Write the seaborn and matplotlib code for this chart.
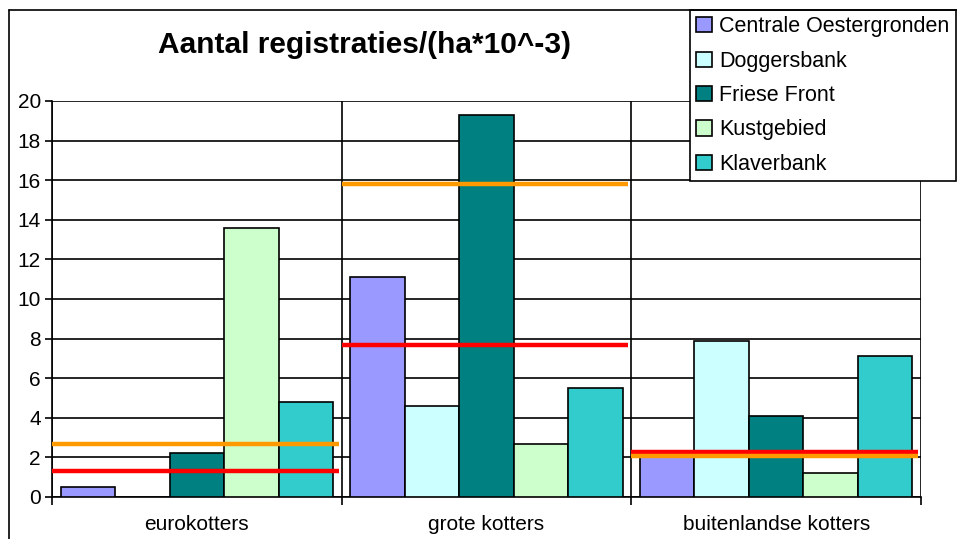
import numpy as np
import pandas as pd
import seaborn as sns
import matplotlib.pyplot as plt
from matplotlib.lines import Line2D

# Data
vloot = ["eurokotters", "grote kotters", "buitenlandse kotters"]
gebieden = ["Centrale Oestergronden", "Doggersbank", "Friese Front", "Kustgebied", "Klaverbank"]
centrale = [0.5, 11.1, 2.0]
doggersbank = [np.nan, 4.6, 7.9]
friese_front = [2.2, 19.3, 4.1]
kustgebied = [13.6, 2.7, 1.2]
klaverbank = [4.8, 5.5, 7.1]
lijn_rood = [1.3, 7.7, 2.25]
lijn_oranje = [2.7, 15.8, 2.05]
kleuren = ["#9999FF", "#CCFFFF", "#008080", "#CCFFCC", "#33CCCC"]

series = [centrale, doggersbank, friese_front, kustgebied, klaverbank]
rows = []
for g, vals in zip(gebieden, series):
    for v, w in zip(vloot, vals):
        rows.append({"vloot": v, "gebied": g, "waarde": w})
df = pd.DataFrame(rows)

sns.set_style("white")
plt.rcParams["font.family"] = ["Liberation Sans", "DejaVu Sans"]
plt.rcParams["text.color"] = "black"
plt.rcParams["xtick.color"] = "black"
plt.rcParams["ytick.color"] = "black"

fig = plt.figure(figsize=(9.57, 5.39), dpi=100)
ax = fig.add_axes([52/957, 1-497/539, (921-52)/957, (497-101)/539])

sns.barplot(data=df, x="vloot", y="waarde", hue="gebied", order=vloot, hue_order=gebieden,
            palette=kleuren, width=0.94, gap=0, edgecolor="black", linewidth=1.2,
            errorbar=None, saturation=1, ax=ax, zorder=3)

# reference lines per category
for i in range(len(vloot)):
    ax.hlines(lijn_rood[i], i - 0.5, i + 0.49, color="#FF0000", lw=3.2, zorder=4)
    ax.hlines(lijn_oranje[i], i - 0.5, i + 0.49, color="#FF9900", lw=3.2, zorder=4)

ax.set_xlim(-0.5, 2.5)
ax.set_ylim(0, 20)
ax.set_yticks(range(0, 21, 2))
ax.yaxis.grid(True, color="black", lw=1.2, zorder=0)
ax.set_xticks([-0.5, 0.5, 1.5, 2.5], minor=True)
ax.xaxis.grid(True, which="minor", color="black", lw=1.2)
ax.set_axisbelow(True)
ax.tick_params(axis="x", which="major", length=0, labelsize=15, pad=13)
ax.tick_params(axis="x", which="minor", length=6, width=1.2, color="black", bottom=True)
ax.tick_params(axis="y", length=5, width=1.2, color="black", labelsize=15, pad=3, left=True)
ax.set_xlabel("")
ax.set_ylabel("")
for s in ["top", "right"]:
    ax.spines[s].set_visible(False)
for s in ["left", "bottom"]:
    ax.spines[s].set_color("black")
    ax.spines[s].set_linewidth(1.2)

fig.text(364/957, 1-45/539, "Aantal registraties/(ha*10^-3)", ha="center", va="center",
         fontsize=21.5, fontweight="bold", color="black")

leg = ax.legend(loc="upper left", bbox_to_anchor=(690/957, 1-10/539), bbox_transform=fig.transFigure,
                frameon=True, fancybox=False, edgecolor="black", framealpha=1, fontsize=15.5,
                handlelength=0.7, handleheight=0.7, handletextpad=0.35, labelspacing=0.62,
                borderpad=0.3, borderaxespad=0)
leg.get_frame().set_linewidth(1.2)
leg.set_zorder(10)

# chart area border
fig.add_artist(Line2D([9/957, 9/957], [0, 1-10/539], color="black", lw=1.2))
fig.add_artist(Line2D([9/957, 1], [1-10/539, 1-10/539], color="black", lw=1.2))

fig.savefig("out.png", dpi=100)
